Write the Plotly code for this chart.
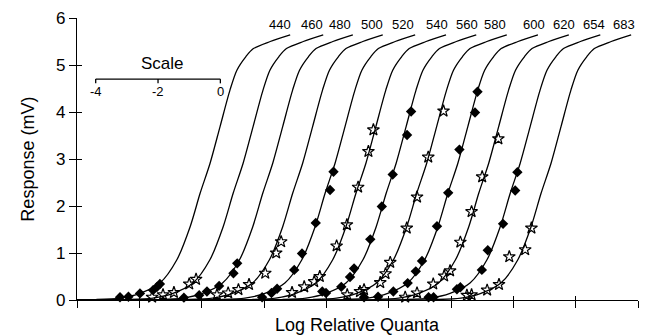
import plotly.graph_objects as go

# ---- data ----
wavelengths = ["440", "460", "480", "500", "520", "540", "560", "580", "600", "620", "654", "683"]
# horizontal position (log units on the display axis) of each curve's midpoint
curve_centers = [4.22, 5.28, 6.23, 7.19, 8.23, 9.22, 10.19, 11.17, 12.17, 13.16, 14.17, 15.16]
# shape of the fitted curve (offset from midpoint, response mV)
template_dx = [-16.0, -3.6, -2.84, -2.20, -1.56, -1.02, -0.59, -0.27, 0.05, 0.37, 0.69, 0.91, 1.20, 1.44, 1.98, 2.62]
template_mv = [0.0, 0.01, 0.04, 0.14, 0.36, 0.85, 1.56, 2.27, 2.91, 3.69, 4.47, 4.89, 5.18, 5.35, 5.50, 5.64]
# label positions
label_x = [6.52, 7.53, 8.44, 9.46, 10.47, 11.55, 12.51, 13.42, 14.65, 15.61, 16.58, 17.54]
label_y = 5.86

# measured points (x in log units on display axis, y in mV)
pts_x = [
    [1.38, 1.65, 2.02, 2.44, 2.57, 2.66],
    [2.41, 2.76, 3.11, 3.60, 3.82],
    [3.43, 3.92, 4.17, 4.56, 5.02, 5.14],
    [4.49, 4.85, 5.18, 5.52, 6.04, 6.39, 6.55],
    [5.94, 6.24, 6.42, 6.97, 7.22, 7.66, 8.12, 8.23],
    [6.90, 7.29, 7.61, 7.79, 8.33, 8.66, 9.02, 9.35, 9.51],
    [7.87, 7.99, 8.48, 8.76, 8.89, 9.41, 9.78, 10.13, 10.59, 10.72],
    [8.67, 9.08, 9.21, 9.73, 9.90, 10.05, 10.58, 10.91, 11.27, 11.76],
    [9.21, 9.66, 10.15, 10.61, 10.87, 11.07, 11.55, 11.91, 12.27, 12.77, 12.85],
    [10.53, 10.91, 11.43, 11.78, 11.97, 12.30, 12.66, 13.00, 13.52],
    [11.28, 11.44, 12.19, 12.30, 12.99, 13.18, 13.67, 14.06, 14.13],
    [12.51, 12.66, 13.16, 13.54, 13.87, 14.38, 14.58],
]
pts_y = [
    [0.06, 0.07, 0.14, 0.21, 0.28, 0.34],
    [0.06, 0.11, 0.16, 0.34, 0.44],
    [0.05, 0.10, 0.18, 0.30, 0.57, 0.78],
    [0.11, 0.15, 0.22, 0.33, 0.57, 1.00, 1.24],
    [0.06, 0.15, 0.24, 0.64, 0.99, 1.64, 2.34, 2.73],
    [0.16, 0.28, 0.39, 0.50, 1.15, 1.60, 2.40, 3.16, 3.62],
    [0.18, 0.15, 0.28, 0.49, 0.67, 1.29, 1.99, 2.67, 3.51, 4.01],
    [0.11, 0.18, 0.22, 0.37, 0.56, 0.80, 1.53, 2.19, 3.04, 4.02],
    [0.06, 0.07, 0.18, 0.36, 0.61, 0.83, 1.57, 2.28, 3.20, 3.99, 4.43],
    [0.06, 0.15, 0.34, 0.51, 0.62, 1.23, 1.88, 2.62, 3.43],
    [0.06, 0.06, 0.23, 0.27, 0.64, 1.06, 1.62, 2.33, 2.72],
    [0.10, 0.11, 0.21, 0.33, 0.92, 1.07, 1.53],
]

scale_ticks = [-4, -2, 0]
scale_origin = 4.6   # display-axis position of scale value 0
scale_y = 4.70

FONT = "Liberation Sans, Arial, sans-serif"

fig = go.Figure()

for i, (c, w) in enumerate(zip(curve_centers, wavelengths)):
    fig.add_trace(go.Scatter(
        x=[c + d for d in template_dx], y=template_mv, mode="lines",
        line=dict(color="black", width=1.3, shape="spline", smoothing=0.8),
        showlegend=False, hoverinfo="skip",
        xaxis="x2" if i == 0 else "x", yaxis="y2" if i == 0 else "y"))

for i in range(len(pts_x)):
    if i % 2 == 0:
        mk = dict(symbol="diamond", size=8, color="black", line=dict(width=0))
    else:
        mk = dict(symbol="star-open", size=9, color="black", line=dict(width=1.2, color="black"))
    fig.add_trace(go.Scatter(x=pts_x[i], y=pts_y[i], mode="markers", marker=mk,
                             showlegend=False, cliponaxis=False))

# wavelength labels
for lx, w in zip(label_x, wavelengths):
    fig.add_annotation(x=lx, y=label_y, text=w, showarrow=False, xref="x", yref="y",
                       font=dict(family=FONT, size=13, color="black"))

# scale bar
sx = [scale_origin + t for t in scale_ticks]
fig.add_shape(type="line", x0=sx[0], x1=sx[-1], y0=scale_y, y1=scale_y,
              xref="x", yref="y", line=dict(color="black", width=1.3))
for t, x in zip(scale_ticks, sx):
    fig.add_shape(type="line", x0=x, x1=x, y0=scale_y, y1=scale_y - 0.09,
                  xref="x", yref="y", line=dict(color="black", width=1.3))
    fig.add_annotation(x=x, y=scale_y - 0.26, text=str(t), showarrow=False,
                       font=dict(family=FONT, size=13, color="black"))
fig.add_annotation(x=(sx[0] + sx[-1]) / 2 + 0.15, y=5.04, text="Scale", showarrow=False,
                   font=dict(family=FONT, size=17, color="black"))

# axis titles
fig.add_annotation(xref="paper", yref="paper", x=-0.088, y=0.5, xanchor="center",
                   yanchor="middle", text="Response (mV)", showarrow=False, textangle=-90,
                   font=dict(family=FONT, size=18, color="black"))
fig.add_annotation(x=0.5, y=-0.088, xref="paper", yref="paper", text="Log Relative Quanta",
                   showarrow=False, yanchor="middle", xanchor="center",
                   font=dict(family=FONT, size=18, color="black"))

axis_common = dict(showgrid=False, zeroline=False, automargin=False)
fig.update_layout(
    width=648, height=336,
    margin=dict(l=77, r=10, t=18, b=36, autoexpand=False),
    plot_bgcolor="white", paper_bgcolor="white",
    font=dict(family=FONT, color="black"),
    xaxis=dict(range=[0, 18], tick0=0, dtick=2, ticks="outside", ticklen=7, tickwidth=1.3,
               tickcolor="black", showticklabels=False, showline=True, linecolor="black",
               linewidth=1.3, **axis_common),
    yaxis=dict(range=[0, 6], tick0=0, dtick=1, ticks="outside", ticklen=7, tickwidth=1.3,
               tickcolor="black", showline=True, linecolor="black", linewidth=1.3,
               tickfont=dict(family=FONT, size=17, color="black"), **axis_common),
    xaxis2=dict(overlaying="x", matches="x", anchor="y", side="bottom", tick0=0, dtick=2,
                ticks="inside", ticklen=4, tickwidth=1.3, tickcolor="black",
                showticklabels=False, showline=False, **axis_common),
    yaxis2=dict(overlaying="y", matches="y", anchor="x", side="left", tick0=0, dtick=1,
                ticks="inside", ticklen=5, tickwidth=1.3, tickcolor="black",
                showticklabels=False, showline=False, **axis_common),
)

fig.write_html("out.html", config={"displayModeBar": False},
               post_script="document.body.style.margin='0';")
